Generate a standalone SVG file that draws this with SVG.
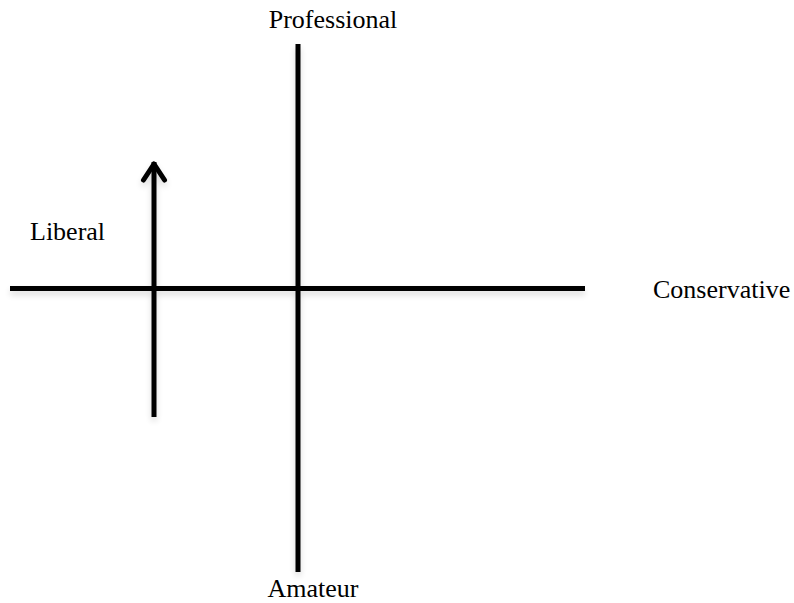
<svg xmlns="http://www.w3.org/2000/svg" width="794" height="603" viewBox="0 0 794 603">
<style>
.lbl{font-family:"Liberation Serif","Times New Roman",serif;font-size:26px;fill:#000}
.ax{stroke:#000;stroke-width:5;fill:none}
</style>
<defs>
<filter id="sh" x="-10%" y="-10%" width="120%" height="130%">
<feGaussianBlur in="SourceAlpha" stdDeviation="3"/>
<feOffset dx="0" dy="4" result="b"/>
<feComponentTransfer><feFuncA type="linear" slope="0.15"/></feComponentTransfer>
<feMerge><feMergeNode/><feMergeNode in="SourceGraphic"/></feMerge>
</filter>
</defs>
<rect width="794" height="603" fill="#fff"/>
<g id="connectors" filter="url(#sh)">
<line class="ax" x1="10" y1="288.5" x2="585" y2="288.5"/>
<line class="ax" x1="298" y1="44" x2="298" y2="572"/>
<line class="ax" x1="154" y1="417" x2="154" y2="162"/>
<polyline class="ax" points="143.5,180 154,164 164.5,180" stroke-linecap="round" stroke-linejoin="round"/>
</g>
<g id="professional"><text class="lbl" x="333" y="28" text-anchor="middle">Professional</text></g>
<g id="amateur"><text class="lbl" x="313" y="597" text-anchor="middle">Amateur</text></g>
<g id="liberal"><text class="lbl" x="30" y="240">Liberal</text></g>
<g id="conservative"><text class="lbl" x="653" y="298">Conservative</text></g>
</svg>
